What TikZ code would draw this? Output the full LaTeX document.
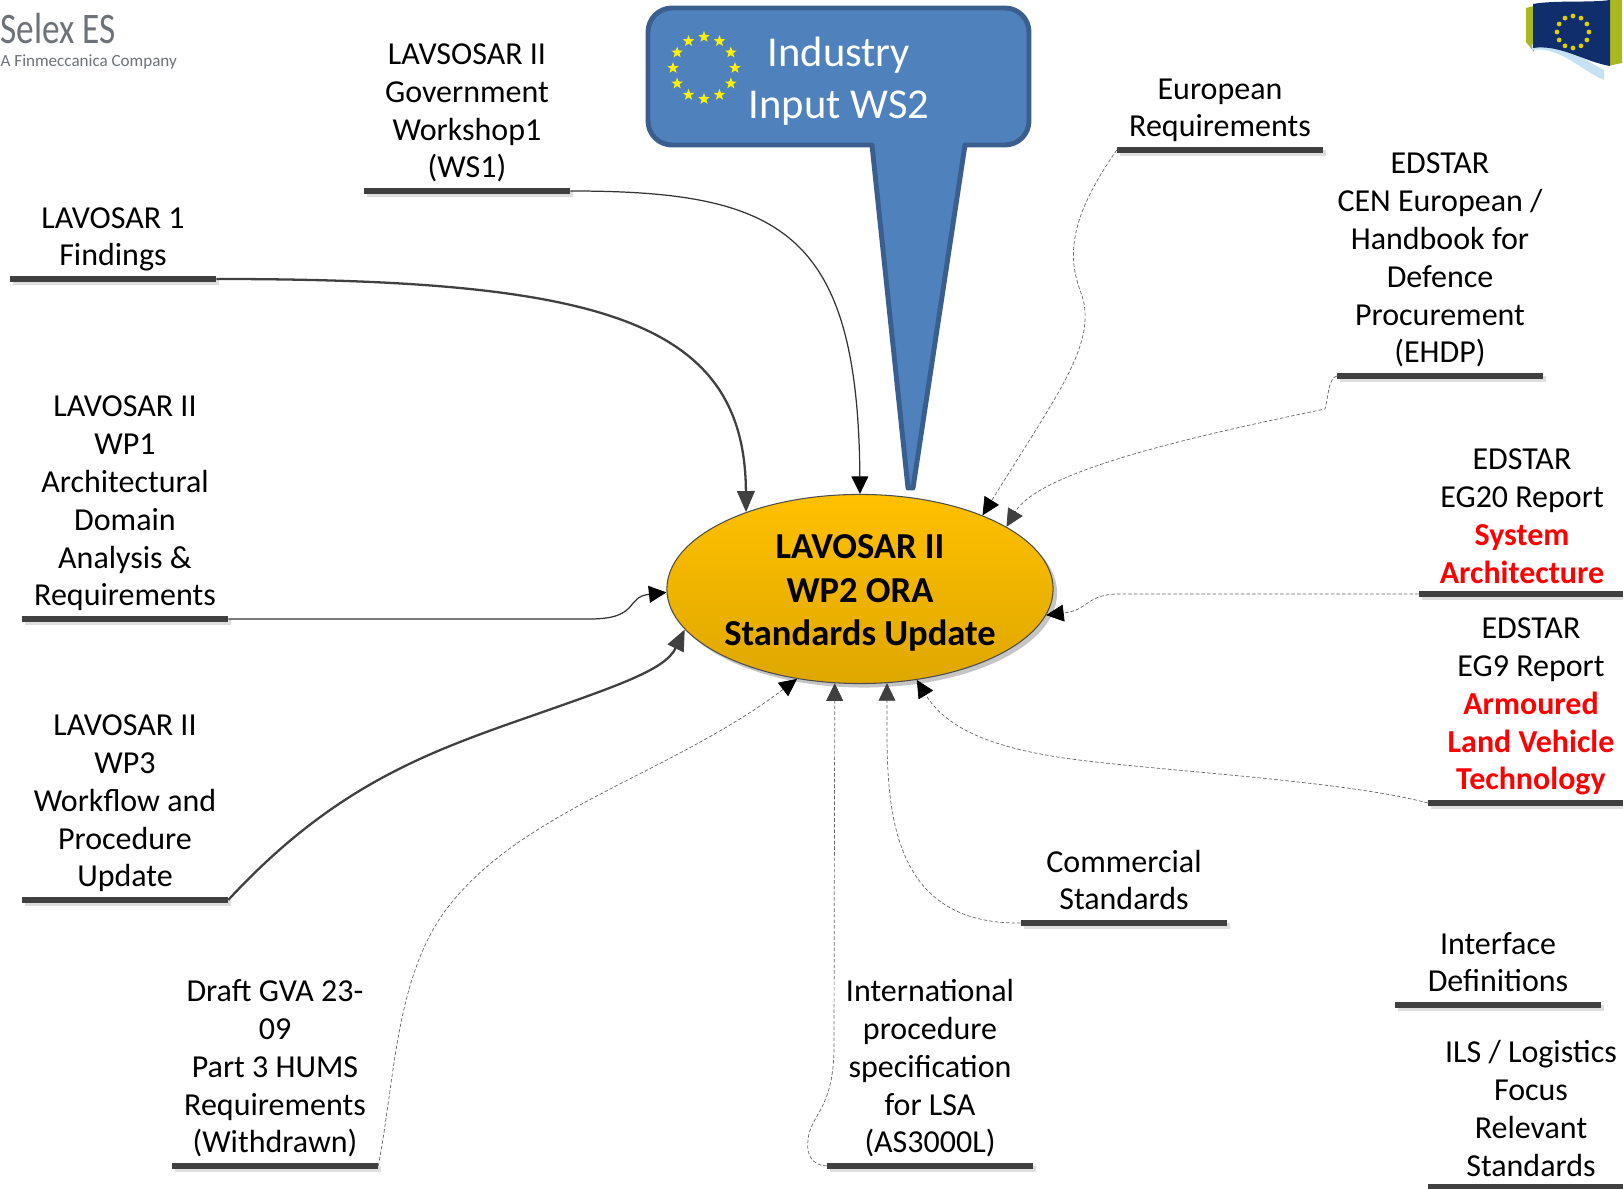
\documentclass[tikz,border=0pt]{standalone}
\usepackage{fontspec}
\setmainfont{Carlito}
\usepackage{tikz}
\usetikzlibrary{arrows.meta,calc,positioning,shapes.geometric,shadows}
\definecolor{barcol}{HTML}{404040}
\definecolor{calloutfill}{HTML}{4F81BD}
\definecolor{calloutline}{HTML}{3A5F8F}
\definecolor{coretop}{HTML}{FFC000}
\definecolor{corebottom}{HTML}{DFA800}
\definecolor{logogray}{HTML}{6D7278}
\definecolor{flagblue}{HTML}{0F2E6B}
\definecolor{flagolive}{HTML}{A9B81E}
\definecolor{flagwave}{HTML}{8FC4E8}

\begin{document}
\begin{tikzpicture}[
    x=0.01cm, y=-0.01cm,
    node distance=-0.028cm,
    bar/.style={fill=barcol, minimum width=2.05cm, minimum height=0.06cm, inner sep=0pt,
      drop shadow={shadow xshift=0.03cm, shadow yshift=-0.03cm, fill=black!25}},
    topic/.style={font=\fontsize{9.1}{10.8}\selectfont, align=center, inner sep=0pt,
      execute at end node={\strut}},
    core/.style={ellipse, draw=black!70, line width=0.3pt, top color=coretop, bottom color=corebottom,
      minimum width=3.86cm, minimum height=1.89cm, inner sep=0pt,
      drop shadow={shadow xshift=0.04cm, shadow yshift=-0.04cm, fill=black!45}},
    corelabel/.style={align=center, inner sep=0pt, font=\fontsize{10.4}{12.4}\bfseries\selectfont},
    callout/.style={fill=calloutfill, draw=calloutline, line width=1.4pt, line join=round},
    blacktip/.style={-{Triangle[length=5pt,width=4.8pt,color=black]}},
    graytip/.style={-{Triangle[length=5pt,width=4.8pt,color=barcol]}},
    strong/.style={-{Triangle[length=6pt,width=5pt,color=barcol]}, draw=barcol, line width=0.65pt},
    plain/.style={blacktip, draw=black!80, line width=0.35pt},
    dashline/.style={draw=black!60, line width=0.2pt, dash pattern=on 1pt off 0.6pt}
  ]
  \useasboundingbox (0,0) rectangle (1623,1189);
  \clip (0,0) rectangle (1623,1189);

  % Logos
  \node[anchor=west, inner sep=0pt, text=logogray, font=\fontsize{12.4}{14}\selectfont] (selex) at (0,29) {\scalebox{0.81}[1]{Selex ES}};
  \node[anchor=west, inner sep=0pt, text=logogray, font=\fontsize{4.85}{6}\selectfont] (finmeccanica) at (0,62) {A Finmeccanica Company};

  \fill[flagolive] (1526,8) -- (1534,6) -- (1534,52) -- (1526,42) -- cycle;
  \fill[flagolive] (1608,0) -- (1622,0) -- (1622,63) -- (1608,66) -- cycle;
  \fill[flagwave!50] (1532,50) .. controls (1560,46) and (1580,70) .. (1604,80) -- (1604,70) .. controls (1580,58) and (1560,40) .. (1532,44) -- cycle;
  \fill[flagblue] (1533,4) .. controls (1555,0) and (1590,3) .. (1610,0) -- (1610,66) .. controls (1585,62) and (1560,44) .. (1533,48) -- cycle;
  \foreach \a in {0,30,...,330}
    \fill[yellow!70!olive] (1573,32) ++(\a:16) circle (2.4);

  % Input callout
  \draw[callout, rounded corners=0.24cm] (965,145) -- (1029,145) -- (1029,8) -- (648,8) -- (648,145) [sharp corners] -- (872,145) -- (908,488) -- (913,488) -- cycle;
  \foreach \a in {0,30,...,330}
    \node[star, star points=5, star point ratio=2.4, fill=yellow, inner sep=0pt, minimum size=0.12cm] at ($(704,68)+(\a:31)$) {};
  \node[align=center, text=white, font=\fontsize{12.1}{14.8}\selectfont, inner sep=0pt] (industry) at (839,81) {Industry\\Input WS2};

  % Core
  \node[core] (core) at (860,589) {};
  \node[corelabel] (corelabel) at (860,593) {LAVOSAR II\\WP2 ORA\\Standards Update};

  % Left side
  \node[bar] (ws1bar) at (467,191) {};
  \node[topic, above=of ws1bar] (ws1) {LAVSOSAR II\\Government\\Workshop1\\(WS1)};
  \node[bar] (findbar) at (113,279) {};
  \node[topic, above=of findbar] (find) {LAVOSAR 1\\Findings};
  \node[bar] (wp1bar) at (125,619) {};
  \node[topic, above=of wp1bar] (wp1) {LAVOSAR II\\WP1\\Architectural\\Domain\\Analysis \&\\Requirements};
  \node[bar] (wp3bar) at (125,900) {};
  \node[topic, above=of wp3bar] (wp3) {LAVOSAR II\\WP3\\Workflow and\\Procedure\\Update};
  \node[bar] (gvabar) at (275,1166) {};
  \node[topic, above=of gvabar] (gva) {Draft GVA 23-\\09\\Part 3 HUMS\\Requirements\\(Withdrawn)};

  % Bottom and right side
  \node[bar] (lsabar) at (930,1166) {};
  \node[topic, above=of lsabar] (lsa) {International\\procedure\\specification\\for LSA\\(AS3000L)};
  \node[bar] (combar) at (1124,923) {};
  \node[topic, above=of combar] (com) {Commercial\\Standards};
  \node[bar] (ifbar) at (1498,1005) {};
  \node[topic, above=of ifbar] (if) {Interface\\Definitions};
  \node[bar] (ilsbar) at (1531,1187) {};
  \node[topic, above=-0.05cm of ilsbar] (ils) {ILS / Logistics\\Focus\\Relevant\\Standards};
  \node[bar] (egninebar) at (1531,803) {};
  \node[topic, above=of egninebar] (egnine) {EDSTAR\\EG9 Report\\\textcolor{red}{\textbf{Armoured}}\\\textcolor{red}{\textbf{Land Vehicle}}\\\textcolor{red}{\textbf{Technology}}};
  \node[bar] (egtwentybar) at (1522,594) {};
  \node[topic, above=-0.05cm of egtwentybar] (egtwenty) {EDSTAR\\EG20 Report\\\textcolor{red}{\textbf{System}}\\\textcolor{red}{\textbf{Architecture}}};
  \node[bar] (ehdpbar) at (1440,376) {};
  \node[topic, above=of ehdpbar] (ehdp) {EDSTAR\\CEN European /\\Handbook for\\Defence\\Procurement\\(EHDP)};
  \node[bar] (eurobar) at (1220,150) {};
  \node[topic, above=of eurobar] (euro) {European\\Requirements};

  % Connections
  \draw[plain] (ws1bar.east) .. controls (780,191) and (858,230) .. (core.90);
  \draw[strong] (findbar.east) .. controls (600,279) and (745,320) .. (core.146.6);
  \draw[plain] (wp1bar.east) -- (590,619) .. controls (640,619) and (625,597) .. (core.181);
  \draw[strong] (wp3bar.east) .. controls (330,790) and (420,755) .. (520,720) .. controls (620,685) and (665,670) .. (core.193.3);

  \draw[dashline, blacktip] (gvabar.east) .. controls (395,1080) and (395,980) .. (445,911) .. controls (520,810) and (670,775) .. (core.-125);
  \draw[dashline, graytip] (lsabar.west) .. controls (812,1165) and (806,1155) .. (808,1140) .. controls (810,1115) and (833,1110) .. (834,1050) -- (core.-105);
  \draw[dashline, graytip] (combar.west) .. controls (880,925) and (887,790) .. (core.-74);
  \draw[dashline, blacktip] (egninebar.west) .. controls (1350,782) and (1180,772) .. (1087,761) .. controls (1010,752) and (950,735) .. (core.-58);
  \draw[dashline, blacktip] (egtwentybar.west) -- (1120,594) .. controls (1085,594) and (1090,610) .. (core.-8);
  \draw[dashline, graytip] (ehdpbar.west) .. controls (1328,378) and (1328,400) .. (1325,409) .. controls (1200,435) and (1040,470) .. (core.23);
  \draw[dashline, blacktip] (eurobar.west) .. controls (1075,210) and (1065,250) .. (1080,290) .. controls (1100,340) and (1060,390) .. (core.31.7);

\end{tikzpicture}
\end{document}
